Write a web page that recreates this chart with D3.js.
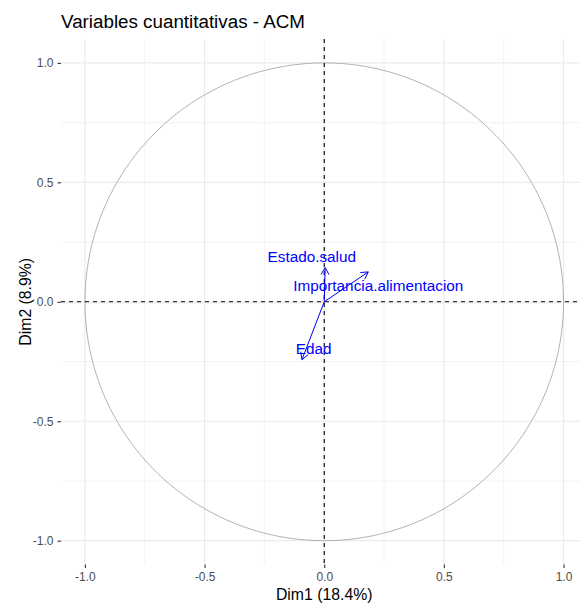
<!DOCTYPE html>
<html><head><meta charset="utf-8">
<script src="https://cdn.jsdelivr.net/npm/d3@7"></script>
<style>body{margin:0;background:#fff;} text{font-family:"Liberation Sans",Arial,sans-serif;}</style>
</head><body>
<svg id="c" width="580" height="603"></svg>
<script>
const variables = ["Estado.salud", "Importancia.alimentacion", "Edad"];
const dim1 = [0.004, 0.184, -0.093];
const dim2 = [0.143, 0.125, -0.242];
const labelDim1 = [-0.052, 0.226, -0.044];
const labelDim2 = [0.191, 0.069, -0.196];
const tickValues = [-1.0, -0.5, 0.0, 0.5, 1.0];
const tickLabels = ["-1.0", "-0.5", "0.0", "0.5", "1.0"];
const minorTicks = [-0.75, -0.25, 0.25, 0.75];
const title = "Variables cuantitativas - ACM";
const xTitle = "Dim1 (18.4%)";
const yTitle = "Dim2 (8.9%)";

const svg = d3.select("#c");
const x = d3.scaleLinear().domain([-1.1, 1.1]).range([61, 61 + 2.2 * 239.3]);
const y = d3.scaleLinear().domain([-1.1, 1.1]).range([564.6, 39]);
const [x0, x1] = x.range();
const [y0, y1] = y.range();

const g = svg.append("g");
// minor grid
g.selectAll(".mx").data(minorTicks).join("line")
  .attr("x1", d => x(d)).attr("x2", d => x(d)).attr("y1", y1).attr("y2", y0)
  .attr("stroke", "#EBEBEB").attr("stroke-width", 0.6);
g.selectAll(".my").data(minorTicks).join("line")
  .attr("y1", d => y(d)).attr("y2", d => y(d)).attr("x1", x0).attr("x2", x1)
  .attr("stroke", "#EBEBEB").attr("stroke-width", 0.6);
// major grid
g.selectAll(".Mx").data(tickValues).join("line")
  .attr("x1", d => x(d)).attr("x2", d => x(d)).attr("y1", y1).attr("y2", y0)
  .attr("stroke", "#EBEBEB").attr("stroke-width", 1.2);
g.selectAll(".My").data(tickValues).join("line")
  .attr("y1", d => y(d)).attr("y2", d => y(d)).attr("x1", x0).attr("x2", x1)
  .attr("stroke", "#EBEBEB").attr("stroke-width", 1.2);

// axes
const xAxis = d3.axisBottom(x).tickValues(tickValues).tickFormat((d, i) => tickLabels[i]).tickSize(3.5).tickPadding(4);
const yAxis = d3.axisLeft(y).tickValues(tickValues).tickFormat((d, i) => tickLabels[i]).tickSize(3.5).tickPadding(4);
const gx = svg.append("g").attr("transform", `translate(0,${y0})`).call(xAxis);
const gy = svg.append("g").attr("transform", `translate(${x0},0)`).call(yAxis);
[gx, gy].forEach(a => {
  a.select(".domain").remove();
  a.selectAll(".tick line").attr("stroke", "#333333").attr("stroke-width", 1.1);
  a.selectAll(".tick text").attr("fill", "#4D4D4D").style("font-size", "12px").style("font-family", '"Liberation Sans",Arial,sans-serif');
});

// circle
const circ = d3.range(0, 361, 2).map(a => [Math.cos(a * Math.PI / 180), Math.sin(a * Math.PI / 180)]);
svg.append("path").datum(circ)
  .attr("d", d3.line().x(d => x(d[0])).y(d => y(d[1])))
  .attr("fill", "none").attr("stroke", "#A0A0A0").attr("stroke-width", 0.8);

// dashed axes lines
svg.append("line").attr("x1", x0).attr("x2", x1).attr("y1", y(0)).attr("y2", y(0))
  .attr("stroke", "#000").attr("stroke-width", 1.1).attr("stroke-dasharray", "4,4");
svg.append("line").attr("x1", x(0)).attr("x2", x(0)).attr("y1", y1).attr("y2", y0)
  .attr("stroke", "#000").attr("stroke-width", 1.1).attr("stroke-dasharray", "4,4");

// arrows
const blue = "#0000FF";
variables.forEach((v, i) => {
  const xa = x(0), ya = y(0), xb = x(dim1[i]), yb = y(dim2[i]);
  svg.append("line").attr("x1", xa).attr("y1", ya).attr("x2", xb).attr("y2", yb)
    .attr("stroke", blue).attr("stroke-width", 1);
  const ang = Math.atan2(yb - ya, xb - xa);
  const L = 8, spread = Math.PI / 6;
  [ang + Math.PI - spread, ang + Math.PI + spread].forEach(a => {
    svg.append("line").attr("x1", xb).attr("y1", yb)
      .attr("x2", xb + L * Math.cos(a)).attr("y2", yb + L * Math.sin(a))
      .attr("stroke", blue).attr("stroke-width", 1);
  });
  svg.append("text").attr("x", x(labelDim1[i])).attr("y", y(labelDim2[i]))
    .attr("text-anchor", "middle").attr("dominant-baseline", "central")
    .attr("fill", blue).style("font-size", "15.3px").text(v);
});

// titles
svg.append("text").attr("x", 61).attr("y", 28).style("font-size", "18.8px").attr("fill", "#000").text(title);
svg.append("text").attr("x", x(0)).attr("y", 600).attr("text-anchor", "middle").style("font-size", "15.8px").attr("fill", "#000").text(xTitle);
svg.append("text").attr("transform", `translate(31,${y(0)}) rotate(-90)`).attr("text-anchor", "middle").style("font-size", "15.8px").attr("fill", "#000").text(yTitle);
</script>
</body></html>
